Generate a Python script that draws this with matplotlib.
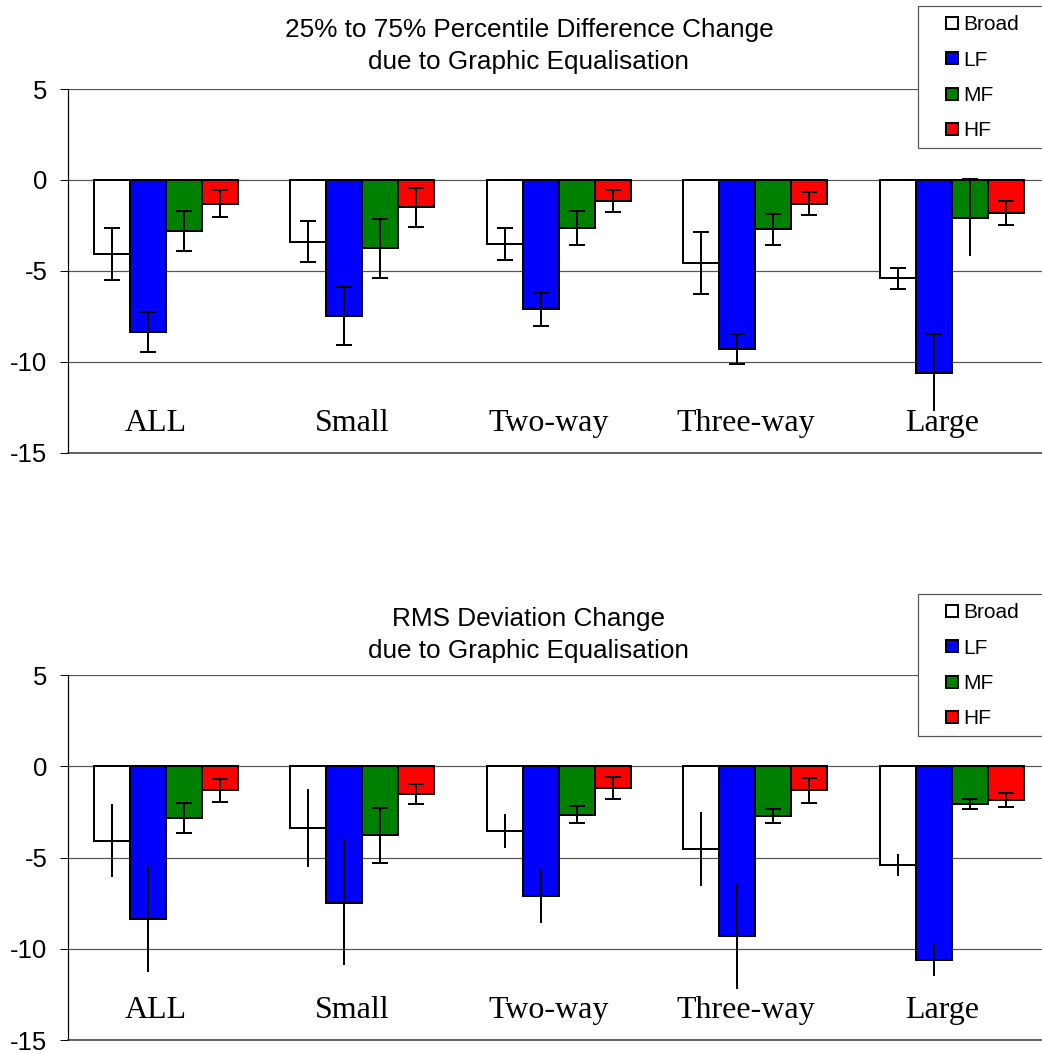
import matplotlib
matplotlib.use("Agg")
import matplotlib.pyplot as plt
from matplotlib.lines import Line2D
from matplotlib.patches import Rectangle
import numpy as np

plt.rcParams["font.family"] = ["Liberation Sans", "DejaVu Sans"]
plt.rcParams["axes.unicode_minus"] = False

# ---- data -------------------------------------------------------------
categories = ["ALL", "Small", "Two-way", "Three-way", "Large"]
series = ["Broad", "LF", "MF", "HF"]

broad = [-4.07, -3.39, -3.53, -4.55, -5.41]
lf = [-8.35, -7.47, -7.12, -9.31, -10.60]
mf = [-2.83, -3.77, -2.64, -2.72, -2.08]
hf = [-1.31, -1.51, -1.17, -1.31, -1.82]

# error half-ranges, percentile-difference chart
pct_err_broad = [1.44, 1.12, 0.90, 1.70, 0.59]
pct_err_lf = [1.11, 1.59, 0.92, 0.83, 2.11]
pct_err_mf = [1.10, 1.60, 0.92, 0.86, 2.12]
pct_err_hf = [0.73, 1.07, 0.59, 0.64, 0.64]

# error half-ranges, RMS deviation chart
rms_err_broad = [2.00, 2.13, 0.94, 2.03, 0.59]
rms_err_lf = [2.94, 3.43, 1.49, 2.92, 0.87]
rms_err_mf = [0.82, 1.50, 0.49, 0.38, 0.27]
rms_err_hf = [0.62, 0.55, 0.61, 0.69, 0.38]

y_ticks = [5, 0, -5, -10, -15]
titles = ["25% to 75% Percentile Difference Change\ndue to Graphic Equalisation",
          "RMS Deviation Change\ndue to Graphic Equalisation"]

# ---- styling ----------------------------------------------------------
colors = ["#FFFFFF", "#0000FF", "#008000", "#FF0000"]
PX = 72.0 / 100.0  # one pixel in points at dpi=100

# caps shown on (lower, upper) ends of each series' error bars
pct_caps = [[(True, True)] * 5,
            [(True, True)] * 4 + [(False, True)],
            [(True, True)] * 4 + [(False, True)],
            [(True, True)] * 5]
rms_caps = [[(False, False)] * 5,
            [(False, False)] * 5,
            [(True, True)] * 5,
            [(True, True)] * 5]

values = [broad, lf, mf, hf]
pct_errs = [pct_err_broad, pct_err_lf, pct_err_mf, pct_err_hf]
rms_errs = [rms_err_broad, rms_err_lf, rms_err_mf, rms_err_hf]

fig = plt.figure(figsize=(10.42, 10.53), dpi=100)
W, H = 1042.0, 1053.0


def fx(px):
    return px / W


def fy(py):
    return 1.0 - py / H


panels = [
    dict(top=89.0, bottom=452.7, errs=pct_errs, caps=pct_caps, title=titles[0],
         title_y=46.0, leg_top=6.0),
    dict(top=675.2, bottom=1040.0, errs=rms_errs, caps=rms_caps, title=titles[1],
         title_y=635.0, leg_top=594.0),
]

left_px, right_px = 67.5, 1050.0
bar_w = 0.183
x = np.arange(len(categories))

for p in panels:
    ax = fig.add_axes([fx(left_px), fy(p["bottom"]), (right_px - left_px) / W,
                       (p["bottom"] - p["top"]) / H])
    ax.set_xlim(-0.5, len(categories) - 0.5)
    ax.set_ylim(-15, 5)

    for k, (vals, errs, caps) in enumerate(zip(values, p["errs"], p["caps"])):
        xs = x + (k - 1.5) * bar_w
        ax.bar(xs, vals, width=bar_w, color=colors[k], edgecolor="black",
               linewidth=2 * PX, zorder=3)
        for xi, v, e, (cap_lo, cap_hi) in zip(xs, vals, errs, caps):
            ax.errorbar([xi], [v], yerr=[[e], [0]], fmt="none", ecolor="black",
                        elinewidth=2 * PX, capthick=2 * PX,
                        capsize=(8 * PX if cap_lo else 0), zorder=4)
            ax.errorbar([xi], [v], yerr=[[0], [e]], fmt="none", ecolor="black",
                        elinewidth=2 * PX, capthick=2 * PX,
                        capsize=(8 * PX if cap_hi else 0), zorder=4)

    # horizontal gridlines at every major tick
    ax.set_yticks(y_ticks)
    ax.yaxis.grid(True, color="#555555", linewidth=1.2 * PX, zorder=0)
    ax.set_axisbelow(True)
    ax.set_xticks([])
    ax.tick_params(axis="y", direction="out", length=8 * PX, width=1 * PX,
                   pad=12 * PX, labelsize=18.5, color="black")

    for side in ("top", "right"):
        ax.spines[side].set_visible(False)
    ax.spines["left"].set_linewidth(1.2 * PX)
    ax.spines["bottom"].set_linewidth(1.5 * PX)
    ax.spines["bottom"].set_color("#333333")

    # category names sit inside the plot area
    for i, name in enumerate(categories):
        ax.text(i - 0.05, -13.8, name, ha="center", va="baseline",
                fontsize=23, family=["Liberation Serif", "DejaVu Serif"])

    fig.text(fx(529), fy(p["title_y"]), p["title"], ha="center", va="center",
             fontsize=18.8, linespacing=1.45)

    # legend box running off the right edge of the figure
    fig.add_artist(Rectangle((fx(918), fy(p["leg_top"] + 142)), fx(140), 142 / H,
                             transform=fig.transFigure, facecolor="white",
                             edgecolor="#555555", linewidth=1.2 * PX, zorder=2))
    handles = [Line2D([], [], marker="s", linestyle="None", markersize=12 * PX,
                      markerfacecolor=c, markeredgecolor="black",
                      markeredgewidth=2 * PX) for c in colors]
    leg = fig.legend(handles, series, loc="upper left",
                     bbox_to_anchor=(fx(918), fy(p["leg_top"])),
                     bbox_transform=fig.transFigure, borderaxespad=0,
                     fontsize=15, handlelength=2.4, handletextpad=-0.66,
                     borderpad=0.45, labelspacing=0.78, frameon=False)
    leg.set_zorder(5)

fig.savefig("out.png", dpi=100)
